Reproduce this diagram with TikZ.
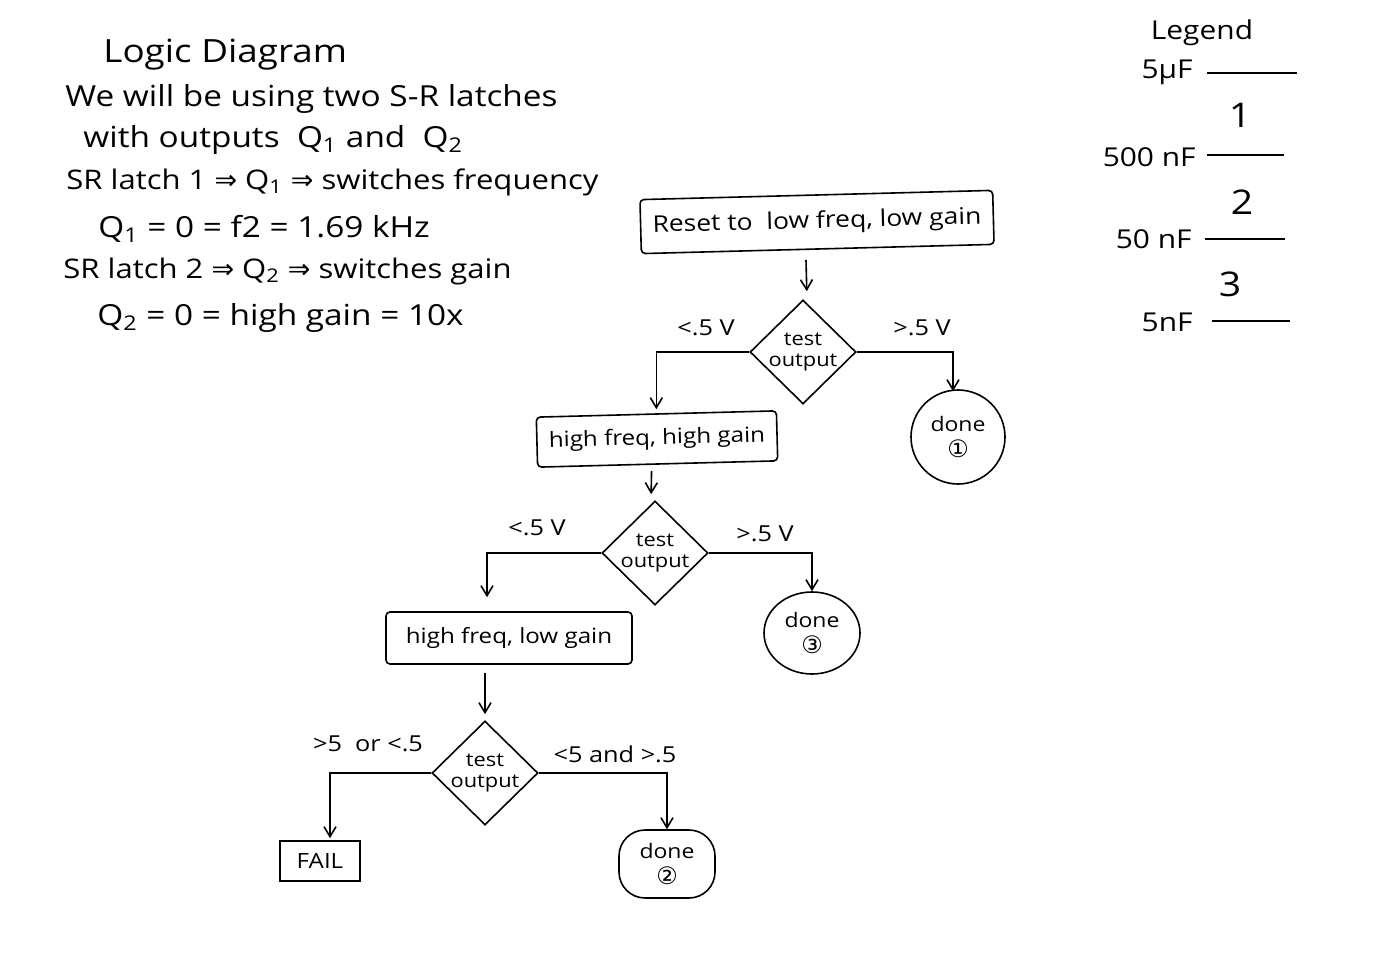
\documentclass[tikz,border=0pt]{standalone}
\usepackage{fontspec}
\setmainfont{Open Sans}[FakeStretch=1.15]
\newfontfamily\sym{DejaVu Sans}
\usetikzlibrary{shapes.geometric,arrows.meta,positioning}
\begin{document}
\begin{tikzpicture}[x=0.5pt,y=-0.5pt,
  every node/.style={inner sep=0pt},
  body/.style={anchor=west,font=\fontsize{14.5}{16}\selectfont},
  bodysm/.style={anchor=west,font=\fontsize{13.5}{16}\selectfont},
  leg/.style={font=\fontsize{13}{16}\selectfont},
  legnum/.style={font=\fontsize{17}{19}\selectfont},
  legline/.style={line width=0.8pt},
  procbox/.style={draw,line width=0.8pt,rounded corners=2pt,inner xsep=6pt,inner ysep=0pt,font=\fontsize{10.5}{12}\selectfont},
  dia/.style={diamond,draw,line width=0.8pt,minimum width=53pt,minimum height=52pt,inner sep=0pt},
  diatext/.style={font=\fontsize{9.5}{10.5}\selectfont,align=center},
  donenode/.style={draw,line width=0.8pt,align=center,font=\fontsize{10}{13}\selectfont},
  blabel/.style={font=\fontsize{11}{13}\selectfont},
  arr/.style={line width=0.8pt,-{Straight Barb[length=5pt,width=6pt]}},
  conn/.style={line width=0.8pt}
]
\useasboundingbox (0,0) rectangle (1392,974);
\fill[white] (0,0) rectangle (1392,974);

% header text
\node[anchor=west,font=\fontsize{16}{18}\selectfont] (title) at (103,55) {Logic Diagram};
\node[body] (t1) at (65,99) {We will be using two S-R latches};
\node[body] (t2) at (83,140) {with outputs\ \ Q\textsubscript{1} and\ \ Q\textsubscript{2}};
\node[bodysm] (t3) at (66,182) {SR latch 1 {\sym ⇒} Q\textsubscript{1} {\sym ⇒} switches frequency};
\node[body] (t4) at (98,229) {Q\textsubscript{1} = 0 = f2 = 1.69 kHz};
\node[bodysm] (t5) at (63,271) {SR latch 2 {\sym ⇒} Q\textsubscript{2} {\sym ⇒} switches gain};
\node[body] (t6) at (97,318) {Q\textsubscript{2} = 0 = high gain = 10x};

% legend
\node[leg] (legt) at (1202,33) {Legend};
\node[leg,anchor=east] (l1) at (1193,72) {5µF};
\coordinate (l1a) at (1207,73); \coordinate (l1b) at (1297,73);
\draw[legline] (l1a) -- (l1b);
\node[legnum] (n1) at (1240,115) {1};
\node[leg,anchor=east] (l2) at (1196,157) {500 nF};
\coordinate (l2a) at (1207,155); \coordinate (l2b) at (1284,155);
\draw[legline] (l2a) -- (l2b);
\node[legnum] (n2) at (1242,202) {2};
\node[leg,anchor=east] (l3) at (1192,239) {50 nF};
\coordinate (l3a) at (1205,239); \coordinate (l3b) at (1285,239);
\draw[legline] (l3a) -- (l3b);
\node[legnum] (n3) at (1230,284) {3};
\node[leg,anchor=east] (l4) at (1193,322) {5nF};
\coordinate (l4a) at (1212,321); \coordinate (l4b) at (1290,321);
\draw[legline] (l4a) -- (l4b);

% flowchart
\node[procbox,minimum width=172pt,minimum height=27pt,rotate=1.5,font=\fontsize{11.5}{13}\selectfont] (b1) at (817,222) {Reset to\ \ low freq, low gain};
\node[dia] (d1) at (803,352) {};
\node[diatext] at (d1) {test\\output};
\node[procbox,minimum width=120pt,minimum height=25pt,rotate=1.5] (b2) at (657,439) {high freq, high gain};
\node[donenode,circle,minimum size=47pt] (e1) at (958,437) {done\\{\sym\fontsize{12}{13}\selectfont ①}};
\node[dia] (d2) at (655,553) {};
\node[diatext] at (d2) {test\\output};
\node[donenode,ellipse,minimum width=48pt,minimum height=41pt] (e3) at (812,633) {done\\{\sym\fontsize{12}{13}\selectfont ③}};
\node[procbox,minimum width=123pt,minimum height=26pt] (b3) at (509,638) {high freq, low gain};
\node[dia] (d3) at (485,773) {};
\node[diatext] at (d3) {test\\output};
\node[procbox,rounded corners=0pt,minimum width=40pt,minimum height=20pt,inner xsep=3pt] (fail) at (320,861) {FAIL};
\node[donenode,rounded corners=13pt,minimum width=48pt,minimum height=34pt] (e2) at (667,864) {done\\{\sym\fontsize{12}{13}\selectfont ②}};

% connectors
\draw[arr,shorten <=5pt,shorten >=4pt] ([xshift=-6pt]b1.south) -- ([xshift=2pt]d1.north);
\draw[arr,shorten >=2pt] (d1.west) -| (b2.north);
\draw[arr,shorten >=-1pt] (d1.east) -| ([xshift=-2.5pt]e1.north);
\draw[arr,shorten <=3pt,shorten >=3pt] ([xshift=-3pt]b2.south) -- ([xshift=-2pt]d2.north);
\draw[arr,shorten >=7pt] (d2.west) -| ([xshift=-11pt]b3.north);
\draw[arr] (d2.east) -| (e3.north);
\draw[arr,shorten <=4pt,shorten >=3pt] ([xshift=-12pt]b3.south) -- (d3.north);
\draw[arr,shorten >=1pt] (d3.west) -| ([xshift=5pt]fail.north);
\draw[arr,shorten >=0pt] (d3.east) -| (e2.north);

% branch labels
\node[blabel] (lab1) at (706,328) {<.5 V};
\node[blabel] (lab2) at (922,328) {>.5 V};
\node[blabel] (lab3) at (537,528) {<.5 V};
\node[blabel] (lab4) at (765,534) {>.5 V};
\node[blabel] (lab5) at (368,744) {>5\ \ or <.5};
\node[blabel] (lab6) at (615,754) {<5 and >.5};
\end{tikzpicture}
\end{document}
